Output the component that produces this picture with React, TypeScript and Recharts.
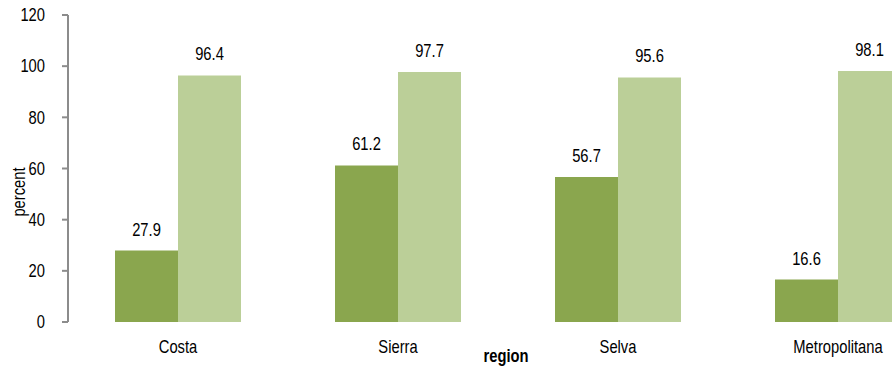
import { BarChart, Bar, XAxis, YAxis, LabelList, Label } from 'recharts';

const regions = ['Costa', 'Sierra', 'Selva', 'Metropolitana'];
const darkValues = [27.9, 61.2, 56.7, 16.6];
const lightValues = [96.4, 97.7, 95.6, 98.1];
const yTicks = [0, 20, 40, 60, 80, 100, 120];

const FONT = '"Liberation Sans", Arial, sans-serif';
const NARROW = 0.82; // squeeze regular sans into a narrow face
const DARK = '#8aa64e';
const LIGHT = '#bbcf98';
const AXIS = '#8c8c8c';

const data = regions.map((region, i) => ({
  region,
  dark: darkValues[i],
  light: lightValues[i],
}));

function NarrowText({ x, y, anchor = 'middle', dy = '0', bold = false, rotate = 0, children }: any) {
  return (
    <g transform={`translate(${x},${y}) rotate(${rotate})`}>
      <text transform={`scale(${NARROW},1)`} textAnchor={anchor} dy={dy}
        fontFamily={FONT} fontSize={18} fontWeight={bold ? 'bold' : 'normal'} fill="#000">
        {children}
      </text>
    </g>
  );
}

function YTick({ x, y, payload }: any) {
  return <NarrowText x={x} y={y} anchor="end" dy="0.35em">{payload.value}</NarrowText>;
}

function XTick({ x, y, payload }: any) {
  return <NarrowText x={x} y={y} dy="0.71em">{payload.value}</NarrowText>;
}

function BarValue({ x, y, width, value }: any) {
  return <NarrowText x={x + width / 2} y={y - 15}>{value}</NarrowText>;
}

function YTitle() {
  return <NarrowText x={19} y={192} rotate={-90} dy="0.35em">percent</NarrowText>;
}

function XTitle({ viewBox }: any) {
  return <NarrowText x={506} y={362} bold>region</NarrowText>;
}

export default function App() {
  return (
    <div style={{ position: 'fixed', left: 0, top: 0, width: 892, height: 370, overflow: 'hidden', background: '#fff' }}>
      <BarChart width={968} height={370} data={data} barSize={63} barGap={0}
        margin={{ top: 15, right: 20, left: 0, bottom: 0 }}>
        <XAxis dataKey="region" axisLine={false} tickLine={false} tickSize={0} tickMargin={18}
          height={48} tick={<XTick />} interval={0}>
          <Label content={XTitle} />
        </XAxis>
        <YAxis width={68} domain={[0, 120]} ticks={yTicks} interval={0}
          axisLine={{ stroke: AXIS, strokeWidth: 2 }} tickLine={{ stroke: AXIS, strokeWidth: 2 }}
          tickSize={6} tickMargin={17} tick={<YTick />}>
          <Label content={YTitle} />
        </YAxis>
        <Bar dataKey="dark" fill={DARK} isAnimationActive={false}>
          <LabelList dataKey="dark" content={BarValue} />
        </Bar>
        <Bar dataKey="light" fill={LIGHT} isAnimationActive={false}>
          <LabelList dataKey="light" content={BarValue} />
        </Bar>
      </BarChart>
    </div>
  );
}
